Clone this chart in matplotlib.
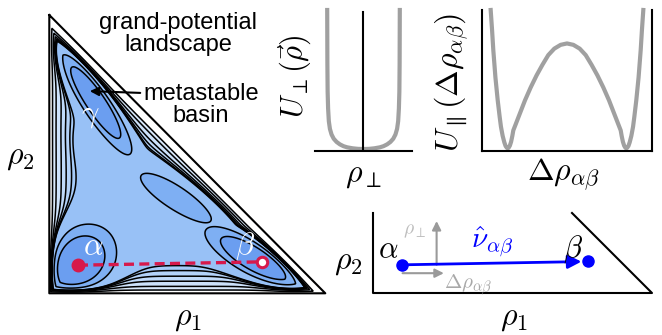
import numpy as np
import matplotlib.pyplot as plt
from matplotlib.patches import FancyArrowPatch

plt.rcParams['mathtext.fontset'] = 'cm'
plt.rcParams['font.family'] = ['Liberation Sans', 'DejaVu Sans']

# --- landscape wells: alpha, beta, gamma, centre (rho1, rho2 in simplex units)
well_x = [0.100, 0.752, 0.165, 0.470]
well_y = [0.105, 0.122, 0.695, 0.340]
well_depth = [1.0, 1.0, 1.0, 0.40]
well_su = [0.098, 0.130, 0.142, 0.170]
well_sv = [0.075, 0.040, 0.032, 0.048]
well_tilt = [45, -30, -56.7, -31.6]

basin_depth = 0.35     # flat background basin
basin_width = 0.0565
wall_len = 0.008       # steep wall at the simplex edges
edge = 0.975           # rho1 + rho2 limit of the landscape

levels = [-3, -0.85, -0.6, -0.325, -0.307, -0.27, -0.21, -0.08, 0.2]
fills = ['#6b9ef0', '#7eaff3', '#98c1f6', '#a6cbf8', '#b3d2f9',
         '#c0dafa', '#cde2fb', '#daeafc']

# coexisting phases
alpha_pt = (0.104, 0.101)
beta_pt = (0.772, 0.113)

# U_perp cut
perp_x = [-1.0, -0.995, -0.988, -0.975, -0.955, -0.925, -0.88, -0.82, -0.74,
          -0.65, -0.55, -0.45, -0.3, -0.15, 0.0,
          0.15, 0.3, 0.45, 0.55, 0.65, 0.74, 0.82, 0.88, 0.925, 0.955,
          0.975, 0.988, 0.995, 1.0]
perp_U = [1.0, 0.62, 0.42, 0.3, 0.21, 0.155, 0.115, 0.085, 0.062,
          0.045, 0.032, 0.024, 0.017, 0.013, 0.012,
          0.013, 0.017, 0.024, 0.032, 0.045, 0.062, 0.085, 0.115, 0.155, 0.21,
          0.3, 0.42, 0.62, 1.0]

# U_parallel cut along alpha-beta
par_x = [-0.901, -0.885, -0.870, -0.845, -0.818, -0.795, -0.78, -0.76, -0.74,
         -0.725, -0.71, -0.700, -0.69, -0.675, -0.66, -0.645, -0.634, -0.565,
         -0.496, -0.428, -0.358, -0.29, -0.221, -0.15, -0.075, 0.0,
         0.075, 0.15, 0.221, 0.29, 0.358, 0.428, 0.496, 0.565, 0.634, 0.645,
         0.66, 0.675, 0.69, 0.700, 0.71, 0.725, 0.74, 0.76, 0.78, 0.795, 0.818,
         0.845, 0.870, 0.885, 0.901]
par_U = [1.0, 0.86, 0.714, 0.52, 0.357, 0.24, 0.17, 0.105, 0.058,
         0.032, 0.019, 0.016, 0.019, 0.034, 0.062, 0.105, 0.143, 0.25,
         0.357, 0.45, 0.536, 0.61, 0.679, 0.725, 0.752, 0.762,
         0.752, 0.725, 0.679, 0.61, 0.536, 0.45, 0.357, 0.25, 0.143, 0.105,
         0.062, 0.034, 0.019, 0.016, 0.019, 0.032, 0.058, 0.105, 0.17, 0.24, 0.357,
         0.52, 0.714, 0.86, 1.0]

W, Hh = 662, 335
red = '#d7194b'
grey = '#a0a0a0'


def fig_box(x0, y0, x1, y1):
    # pixel box (top-left origin) -> figure fraction rect
    return [x0 / W, 1 - y1 / Hh, (x1 - x0) / W, (y1 - y0) / Hh]


fig = plt.figure(figsize=(W / 100, Hh / 100), dpi=100)

# ---------------- main landscape ----------------
ax = fig.add_axes(fig_box(49.3, 15, 325.3, 293.3))
g = np.linspace(0, 1, 801)
X, Y = np.meshgrid(g, g)
Hd = (edge - X - Y) / np.sqrt(2)
D = np.minimum(np.minimum(X, Y), Hd)
Dc = np.clip(D, 1e-4, None)
tau = 0.01
acc = np.ones_like(X)
for cx, cy, A, su, sv, t in zip(well_x, well_y, well_depth, well_su, well_sv, well_tilt):
    th = np.radians(t)
    u = (X - cx) * np.cos(th) + (Y - cy) * np.sin(th)
    v = -(X - cx) * np.sin(th) + (Y - cy) * np.cos(th)
    acc += np.expm1(A * np.exp(-0.5 * ((u / su) ** 2 + (v / sv) ** 2)) / tau)
Wt = tau * np.log(acc)
F = -(Wt + basin_depth * np.tanh(Dc / basin_width)) + np.exp(-Dc / wall_len) + 5e-4 / Dc
F[D <= 0] = 5

ax.contourf(X, Y, F, levels=levels, colors=fills)
ax.contour(X, Y, F, levels=levels[1:], colors='k', linewidths=1.1, linestyles='solid')
ax.plot([0, 0, 1, 0], [1, 0, 0, 1], color='k', lw=1.5, clip_on=False)

ax.plot([alpha_pt[0], beta_pt[0]], [alpha_pt[1], beta_pt[1]], color=red, lw=2.4,
        ls=(0, (3, 1.6)))
ax.plot(*alpha_pt, 'o', ms=9, color=red)
ax.plot(*beta_pt, 'o', ms=7.5, mfc='white', mec=red, mew=2.2)
ax.text(0.159, 0.167, r'$\alpha$', color='white', fontsize=22, ha='center', va='center')
ax.text(0.709, 0.170, r'$\beta$', color='white', fontsize=22, ha='center', va='center')
ax.text(0.147, 0.641, r'$\gamma$', color='white', fontsize=22, ha='center', va='center')
ax.set_xlim(0, 1)
ax.set_ylim(0, 1)
ax.axis('off')

fig.text(20 / W, 1 - 157 / Hh, r'$\rho_2$', fontsize=23, ha='center', va='center')
fig.text(188 / W, 1 - 318 / Hh, r'$\rho_1$', fontsize=23, ha='center', va='center')
fig.text(178 / W, 1 - 34 / Hh, 'grand-potential\nlandscape', fontsize=17,
         ha='center', va='center', linespacing=1.05)
fig.text(201 / W, 1 - 105 / Hh, 'metastable\nbasin', fontsize=17,
         ha='center', va='center', linespacing=1.05)
fig.add_artist(FancyArrowPatch((143 / W, 1 - 93 / Hh), (87 / W, 1 - 91 / Hh),
                               transform=fig.transFigure, arrowstyle='-|>',
                               mutation_scale=13, color='k', lw=1.5))

# ---------------- U_perp ----------------
ax1 = fig.add_axes(fig_box(315, 10, 412, 150.7))
ax1.plot(perp_x, perp_U, color=grey, lw=3, solid_joinstyle='round', clip_on=False)
ax1.plot([0, 0], [0, 0.985], color='k', lw=1.5)
ax1.plot([-1.336, 1.336], [0, 0], color='k', lw=1.5, clip_on=False)
ax1.set_xlim(-1.336, 1.336)
ax1.set_ylim(0, 1)
ax1.axis('off')
fig.text(295 / W, 1 - 76 / Hh, r'$U_\perp(\vec{\rho})$', fontsize=22, rotation=90,
         ha='center', va='center')
fig.text(363 / W, 1 - 175 / Hh, r'$\rho_\perp$', fontsize=23, ha='center', va='center')

# ---------------- U_parallel ----------------
ax2 = fig.add_axes(fig_box(482.3, 10, 651.7, 150.5))
ax2.plot(par_x, par_U, color=grey, lw=3, solid_joinstyle='round', clip_on=False)
ax2.set_xlim(-1, 1)
ax2.set_ylim(0, 1)
ax2.set_xticks([])
ax2.set_yticks([])
ax2.spines['top'].set_visible(False)
for s in ['left', 'right', 'bottom']:
    ax2.spines[s].set_linewidth(1.5)
fig.text(452 / W, 1 - 82 / Hh, r'$U_\parallel(\Delta\rho_{\alpha\beta})$', fontsize=23,
         rotation=90, ha='center', va='center')
fig.text(563 / W, 1 - 175 / Hh, r'$\Delta\rho_{\alpha\beta}$', fontsize=23,
         ha='center', va='center')

# ---------------- zoomed strip with the tie vector ----------------
top = 80 / 279
ax3 = fig.add_axes(fig_box(373, 213, 652, 293))
ax3.plot([0, 0, 1, 1 - top], [top, 0, 0, top], color='k', lw=1.5, clip_on=False)
ax3.annotate('', xy=(alpha_pt[0] + 0.124, alpha_pt[1] + 0.157),
             xytext=(alpha_pt[0] + 0.124, alpha_pt[1]),
             arrowprops=dict(arrowstyle='-|>', color='#9a9a9a', lw=1.5,
                             mutation_scale=13, shrinkA=0, shrinkB=0))
ax3.annotate('', xy=(alpha_pt[0] + 0.15, alpha_pt[1] - 0.03),
             xytext=(alpha_pt[0] + 0.002, alpha_pt[1] - 0.03),
             arrowprops=dict(arrowstyle='-|>', color='#9a9a9a', lw=1.5,
                             mutation_scale=13, shrinkA=0, shrinkB=0))
ax3.annotate('', xy=beta_pt, xytext=alpha_pt,
             arrowprops=dict(arrowstyle='-|>', color='blue', lw=2,
                             mutation_scale=20, shrinkA=0, shrinkB=5))
ax3.plot(*alpha_pt, 'o', ms=8, color='blue')
ax3.plot(*beta_pt, 'o', ms=8, color='blue')
ax3.text(0.15, 0.222, r'$\rho_\perp$', color='#bdbdbd', fontsize=14, ha='center', va='center')
ax3.text(0.255, 0.029, r'$\Delta\rho_{\alpha\beta}$', color='#a8a8a8', fontsize=15,
         ha='left', va='center')
ax3.text(0.427, 0.185, r'$\hat{\nu}_{\alpha\beta}$', color='blue', fontsize=21,
         ha='center', va='center')
ax3.text(0.054, 0.152, r'$\alpha$', fontsize=22, ha='center', va='center')
ax3.text(0.717, 0.158, r'$\beta$', fontsize=22, ha='center', va='center')
ax3.set_xlim(0, 1)
ax3.set_ylim(0, top)
ax3.axis('off')
fig.text(348 / W, 1 - 262 / Hh, r'$\rho_2$', fontsize=23, ha='center', va='center')
fig.text(514 / W, 1 - 318 / Hh, r'$\rho_1$', fontsize=23, ha='center', va='center')

fig.savefig('out.png', dpi=100)
